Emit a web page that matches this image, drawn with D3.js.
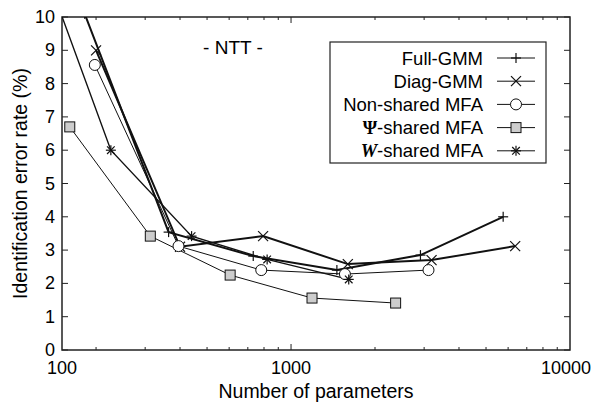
<!DOCTYPE html>
<html>
<head>
<meta charset="utf-8">
<script src="https://cdn.jsdelivr.net/npm/d3@7"></script>
<style>
    body { margin: 0; background: #fff; }
    svg { display: block; font-family: "Liberation Sans", Arial, sans-serif; }
</style>
</head>
<body>
<div id="chart"></div>
<script>
// x = number of parameters, y = identification error rate (%)
const fullGMM   = [[182, 10.1], [364, 3.54], [732, 2.82], [1460, 2.40], [2910, 2.85], [5760, 4.0]];
const diagGMM   = [[200, 9.0], [400, 3.1], [794, 3.42], [1598, 2.58], [3190, 2.7], [6360, 3.12]];
const nonShared = [[198, 8.56], [395, 3.12], [782, 2.40], [1560, 2.28], [3110, 2.40]];
const psiShared = [[161, 6.7], [313, 3.42], [605, 2.25], [1189, 1.56], [2371, 1.41]];
const wShared   = [[113, 12.9], [226, 6.0], [440, 3.42], [821, 2.72], [1610, 2.12]];

const xMin = 151, xMax = 10000;
const xTickValues = [xMin, 1000, 10000];
const xTickLabels = ['100', '1000', '10000'];
const yTicks = [0, 1, 2, 3, 4, 5, 6, 7, 8, 9, 10];

const series = [
    { name: 'Full-GMM', data: fullGMM, marker: 'plus', width: 2 },
    { name: 'Diag-GMM', data: diagGMM, marker: 'cross', width: 2 },
    { name: 'Non-shared MFA', data: nonShared, marker: 'circle', width: 1 },
    { name: 'Ψ-shared MFA', data: psiShared, marker: 'square', width: 1 },
    { name: 'W-shared MFA', data: wShared, marker: 'star', width: 1.4 }
];

const width = 594, height = 403;
const pLeft = 62, pRight = 570, pTop = 17, pBottom = 350;

const x = d3.scaleLog().domain([xMin, xMax]).range([pLeft, pRight]);
const y = d3.scaleLinear().domain([0, 10]).range([pBottom, pTop]);

const svg = d3.select('#chart')
    .append('svg')
    .attr('width', width)
    .attr('height', height);

svg.append('clipPath')
    .attr('id', 'plotclip')
    .append('rect')
    .attr('x', pLeft).attr('y', pTop)
    .attr('width', pRight - pLeft).attr('height', pBottom - pTop);

// ticks, gnuplot style: inward on all four sides
const tickG = svg.append('g').attr('stroke', '#222').attr('stroke-width', 1);

yTicks.forEach(t => {
    tickG.append('line').attr('x1', pLeft).attr('x2', pLeft + 6).attr('y1', y(t)).attr('y2', y(t));
    tickG.append('line').attr('x1', pRight).attr('x2', pRight - 6).attr('y1', y(t)).attr('y2', y(t));
});

const minorTicks = x.ticks().filter(t => t > xMin && t < xMax && t !== 1000);
minorTicks.forEach(t => {
    tickG.append('line').attr('x1', x(t)).attr('x2', x(t)).attr('y1', pBottom).attr('y2', pBottom - 3);
    tickG.append('line').attr('x1', x(t)).attr('x2', x(t)).attr('y1', pTop).attr('y2', pTop + 3);
});
tickG.append('line').attr('x1', x(1000)).attr('x2', x(1000)).attr('y1', pBottom).attr('y2', pBottom - 6);
tickG.append('line').attr('x1', x(1000)).attr('x2', x(1000)).attr('y1', pTop).attr('y2', pTop + 6);

// frame
svg.append('rect')
    .attr('x', pLeft).attr('y', pTop)
    .attr('width', pRight - pLeft).attr('height', pBottom - pTop)
    .attr('fill', 'none')
    .attr('stroke', '#222')
    .attr('stroke-width', 1.5);

// tick labels
svg.append('g')
    .selectAll('text')
    .data(yTicks)
    .enter()
    .append('text')
    .attr('x', 55)
    .attr('y', d => y(d) + 6)
    .attr('text-anchor', 'end')
    .attr('font-size', 18)
    .text(d => d);

svg.append('g')
    .selectAll('text')
    .data(xTickValues)
    .enter()
    .append('text')
    .attr('x', d => x(d) - (d === xMax ? 4 : 0))
    .attr('y', 374)
    .attr('text-anchor', 'middle')
    .attr('font-size', 18)
    .text((d, i) => xTickLabels[i]);

// axis titles
svg.append('text')
    .attr('x', (pLeft + pRight) / 2)
    .attr('y', 398)
    .attr('text-anchor', 'middle')
    .attr('font-size', 19.5)
    .text('Number of parameters');

svg.append('text')
    .attr('transform', `translate(27, ${(pTop + pBottom) / 2}) rotate(-90)`)
    .attr('text-anchor', 'middle')
    .attr('font-size', 19.5)
    .text('Identification error rate (%)');

svg.append('text')
    .attr('x', 233)
    .attr('y', 54)
    .attr('text-anchor', 'middle')
    .attr('font-size', 19)
    .text('- NTT -');

function drawMarker(g, type, cx, cy) {
    const s = 5;
    if (type === 'plus' || type === 'star') {
        g.append('line').attr('x1', cx - s).attr('x2', cx + s).attr('y1', cy).attr('y2', cy);
        g.append('line').attr('x1', cx).attr('x2', cx).attr('y1', cy - s).attr('y2', cy + s);
    }
    if (type === 'cross' || type === 'star') {
        const c = type === 'star' ? 3.8 : 5;
        g.append('line').attr('x1', cx - c).attr('x2', cx + c).attr('y1', cy - c).attr('y2', cy + c);
        g.append('line').attr('x1', cx - c).attr('x2', cx + c).attr('y1', cy + c).attr('y2', cy - c);
    }
    if (type === 'circle') {
        g.append('circle').attr('cx', cx).attr('cy', cy).attr('r', 5.5)
            .attr('fill', '#fff').attr('stroke-width', 1);
    }
    if (type === 'square') {
        g.append('rect').attr('x', cx - 5).attr('y', cy - 5).attr('width', 10).attr('height', 10)
            .attr('fill', '#cdcdcd').attr('stroke-width', 1);
    }
}

const line = d3.line().x(d => x(d[0])).y(d => y(d[1]));
const plot = svg.append('g').attr('clip-path', 'url(#plotclip)');

series.forEach(s => {
    plot.append('path')
        .datum(s.data)
        .attr('d', line)
        .attr('fill', 'none')
        .attr('stroke', '#111')
        .attr('stroke-width', s.width);
});

series.forEach(s => {
    const g = plot.append('g').attr('stroke', '#111').attr('stroke-width', 1.2);
    s.data.forEach(d => drawMarker(g, s.marker, x(d[0]), y(d[1])));
});

// legend
const legendX = 330, legendY = 42, legendW = 216, legendH = 121;
svg.append('rect')
    .attr('x', legendX).attr('y', legendY)
    .attr('width', legendW).attr('height', legendH)
    .attr('fill', '#fff')
    .attr('stroke', '#222')
    .attr('stroke-width', 1.2);

series.forEach((s, i) => {
    const ly = 58 + i * 23.2;
    const t = svg.append('text')
        .attr('x', 483)
        .attr('y', ly + 6.5)
        .attr('text-anchor', 'end')
        .attr('font-size', 18.5);
    if (i === 3) {
        t.append('tspan').attr('font-family', '"Liberation Serif", serif').attr('font-weight', 'bold').text('Ψ');
        t.append('tspan').text('-shared MFA');
    } else if (i === 4) {
        t.append('tspan').attr('font-family', '"Liberation Serif", serif')
            .attr('font-weight', 'bold').attr('font-style', 'italic').text('W');
        t.append('tspan').text('-shared MFA');
    } else {
        t.text(s.name);
    }
    svg.append('line')
        .attr('x1', 497).attr('x2', 535)
        .attr('y1', ly).attr('y2', ly)
        .attr('stroke', '#111')
        .attr('stroke-width', 1);
    const g = svg.append('g').attr('stroke', '#111').attr('stroke-width', 1.2);
    drawMarker(g, s.marker, 516, ly);
});
</script>
</body>
</html>
